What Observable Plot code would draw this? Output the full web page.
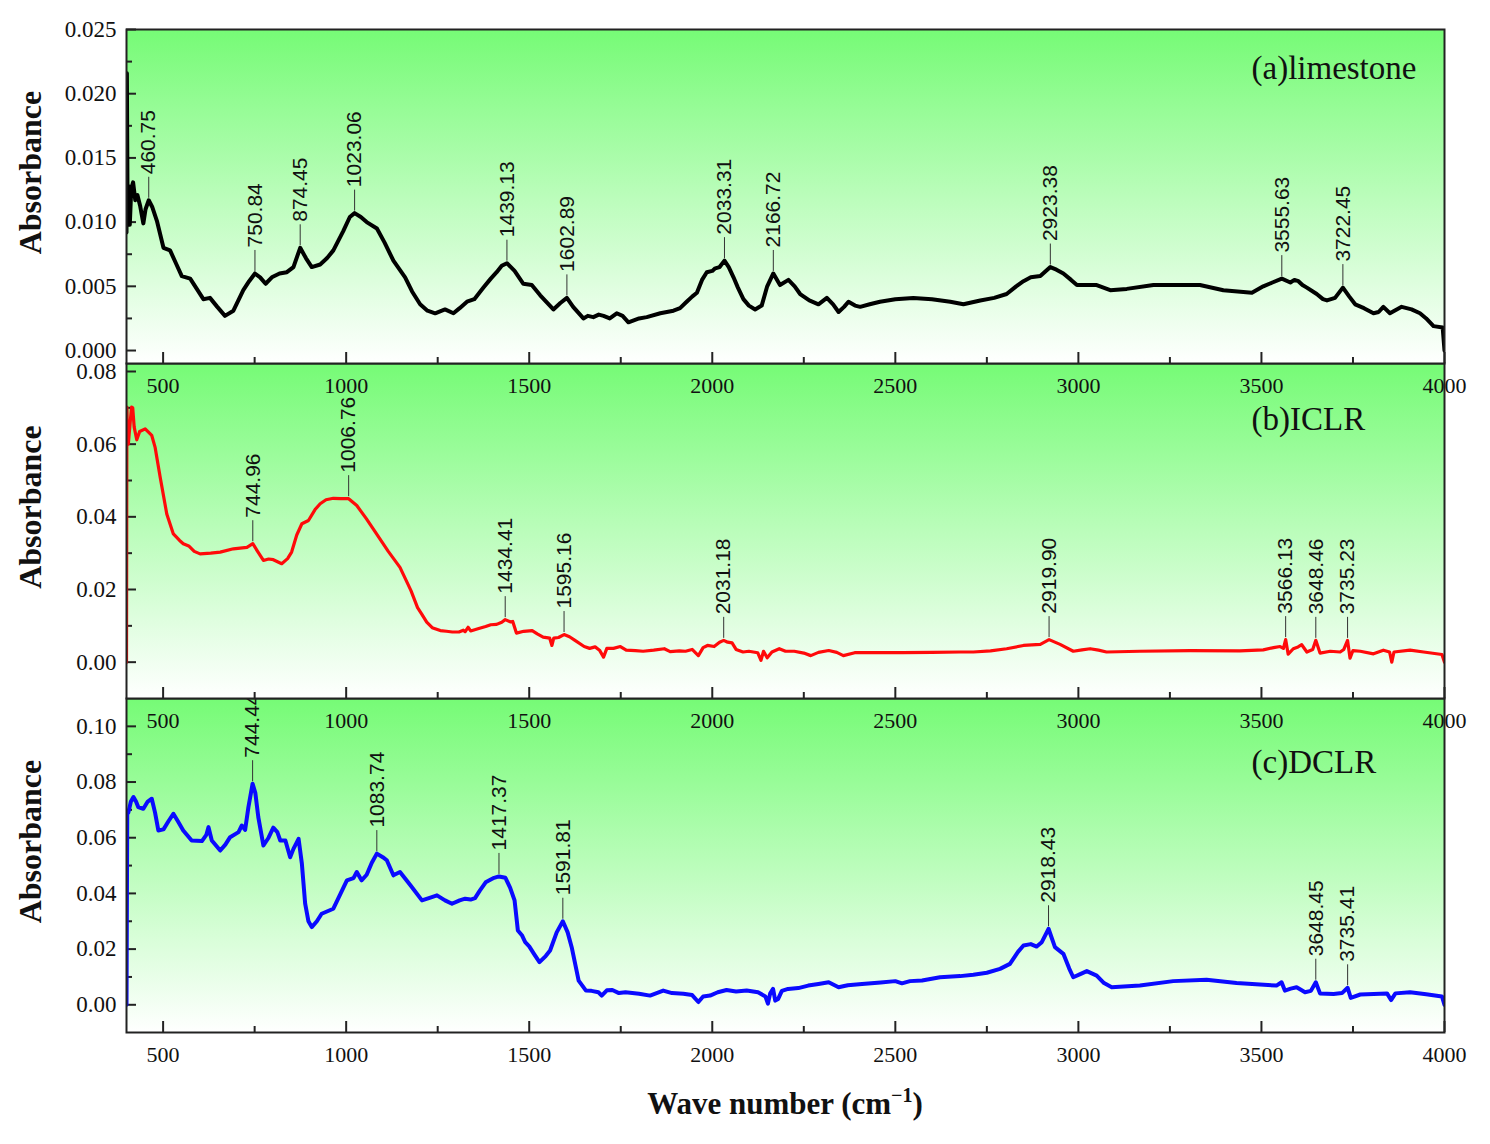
<!DOCTYPE html>
<html>
<head>
<meta charset="utf-8">
<script src="https://cdn.jsdelivr.net/npm/d3@7"></script>
<script src="https://cdn.jsdelivr.net/npm/@observablehq/plot@0.6"></script>
<style>
  body { margin: 0; background: #fff; }
  #chart { position: relative; width: 1490px; height: 1144px; }
  #chart svg { position: absolute; left: 0; }
  #xtitle {
    position: absolute; top: 1086px; left: 126px; width: 1318px;
    text-align: center; line-height: 34px; color: #111;
    font: bold 31px "Liberation Serif", "Times New Roman", serif;
  }
  #xtitle sup { font-size: 20px; vertical-align: 12px; line-height: 0; }
</style>
</head>
<body>
<div id="chart"><div id="xtitle">Wave number (cm<sup>−1</sup>)</div></div>
<script>
// FTIR absorbance spectra: [wavenumber (cm-1), absorbance]
const limestone = [
  [400, 0.0092], [401, 0.0216], [403, 0.0105], [406, 0.0128], [409, 0.0098], [413, 0.0126],
  [418, 0.0131], [424, 0.0117], [430, 0.0121], [437, 0.0113], [446, 0.0099], [452, 0.0110],
  [460.75, 0.0117], [470, 0.0112], [483, 0.0101], [501, 0.0080], [519, 0.0078], [535, 0.0068],
  [551, 0.0058], [574, 0.0056], [592, 0.0048], [610, 0.0040], [628, 0.0041], [648, 0.0034],
  [669, 0.0027], [692, 0.0031], [719, 0.0047], [735, 0.0054], [750.84, 0.0060], [765, 0.0057],
  [780, 0.0052], [797, 0.0057], [818, 0.0060], [838, 0.0061], [856, 0.0065], [874.45, 0.0080],
  [890, 0.0072], [906, 0.0065], [929, 0.0067], [948, 0.0072], [965, 0.0078], [992, 0.0093],
  [1010, 0.0104], [1023.06, 0.0107], [1040, 0.0104], [1056, 0.0100], [1084, 0.0095], [1105, 0.0084],
  [1129, 0.0070], [1161, 0.0057], [1180, 0.0046], [1202, 0.0036], [1222, 0.0031], [1243, 0.0029],
  [1270, 0.0032], [1293, 0.0029], [1310, 0.0033], [1330, 0.0038], [1350, 0.0040], [1375, 0.0049],
  [1395, 0.0056], [1411, 0.0061], [1425, 0.0066], [1439.13, 0.0068], [1460, 0.0062], [1484, 0.0052],
  [1507, 0.0051], [1530, 0.0043], [1566, 0.0032], [1585, 0.0037], [1602.89, 0.0041], [1620, 0.0034],
  [1648, 0.0025], [1660, 0.0027], [1675, 0.0026], [1690, 0.0028], [1703, 0.0027], [1720, 0.0025],
  [1739, 0.0029], [1755, 0.0027], [1771, 0.0022], [1800, 0.0025], [1821, 0.0026], [1858, 0.0029],
  [1894, 0.0031], [1912, 0.0033], [1930, 0.0038], [1945, 0.0042], [1958, 0.0045], [1972, 0.0055],
  [1985, 0.0061], [2000, 0.0062], [2008, 0.0064], [2020, 0.0065], [2033.31, 0.0070], [2045, 0.0065],
  [2058, 0.0057], [2070, 0.0049], [2085, 0.0040], [2100, 0.0035], [2117, 0.0032], [2135, 0.0035],
  [2150, 0.0050], [2166.72, 0.0060], [2185, 0.0051], [2208, 0.0055], [2225, 0.0050], [2240, 0.0044],
  [2265, 0.0039], [2290, 0.0036], [2313, 0.0041], [2330, 0.0036], [2345, 0.0030], [2360, 0.0034],
  [2372, 0.0038], [2390, 0.0035], [2404, 0.0034], [2430, 0.0036], [2458, 0.0038], [2500, 0.0040],
  [2549, 0.0041], [2600, 0.0040], [2650, 0.0038], [2686, 0.0036], [2732, 0.0039], [2770, 0.0041],
  [2804, 0.0044], [2830, 0.0050], [2850, 0.0054], [2870, 0.0057], [2896, 0.0058], [2923.38, 0.0065],
  [2940, 0.0063], [2959, 0.0060], [2980, 0.0055], [2996, 0.0051], [3050, 0.0051], [3087, 0.0047],
  [3132, 0.0048], [3205, 0.0051], [3270, 0.0051], [3332, 0.0051], [3396, 0.0047], [3474, 0.0045],
  [3505, 0.0050], [3530, 0.0053], [3555.63, 0.0056], [3579, 0.0053], [3590, 0.0055], [3601, 0.0054],
  [3612, 0.0051], [3624, 0.0049], [3651, 0.0044], [3668, 0.0040], [3679, 0.0039], [3701, 0.0041],
  [3722.45, 0.0049], [3740, 0.0042], [3756, 0.0036], [3780, 0.0033], [3806, 0.0029], [3820, 0.0030],
  [3833, 0.0034], [3851, 0.0029], [3883, 0.0034], [3910, 0.0032], [3933, 0.0029], [3950, 0.0025],
  [3970, 0.0019], [3995, 0.0018], [4000, 0.0000]
];

const iclr = [
  [400, 0.0000], [401, 0.0702], [403, 0.0610], [405, 0.0600], [410, 0.0660], [414, 0.0702],
  [417, 0.0700], [421, 0.0647], [428, 0.0612], [436, 0.0635], [451, 0.0642], [469, 0.0624],
  [478, 0.0592], [492, 0.0509], [510, 0.0408], [528, 0.0353], [545, 0.0335], [555, 0.0326],
  [570, 0.0320], [585, 0.0305], [601, 0.0298], [630, 0.0300], [656, 0.0303], [692, 0.0312],
  [729, 0.0316], [744.96, 0.0326], [758, 0.0305], [774, 0.0280], [788, 0.0284], [801, 0.0282],
  [824, 0.0271], [840, 0.0285], [851, 0.0303], [865, 0.0350], [879, 0.0381], [897, 0.0390],
  [915, 0.0420], [929, 0.0436], [945, 0.0447], [965, 0.0451], [985, 0.0450], [1006.76, 0.0450],
  [1029, 0.0431], [1055, 0.0395], [1083, 0.0353], [1115, 0.0305], [1147, 0.0261], [1177, 0.0197],
  [1195, 0.0150], [1206, 0.0133], [1220, 0.0110], [1235, 0.0095], [1257, 0.0087], [1274, 0.0085],
  [1290, 0.0083], [1308, 0.0083], [1320, 0.0088], [1325, 0.0084], [1333, 0.0096], [1340, 0.0086],
  [1360, 0.0092], [1381, 0.0098], [1395, 0.0103], [1411, 0.0104], [1425, 0.0110], [1434.41, 0.0117],
  [1448, 0.0111], [1455, 0.0112], [1465, 0.0080], [1485, 0.0085], [1508, 0.0087], [1522, 0.0078],
  [1538, 0.0069], [1556, 0.0066], [1562, 0.0046], [1567, 0.0066], [1580, 0.0068], [1595.16, 0.0076],
  [1610, 0.0070], [1625, 0.0060], [1650, 0.0043], [1665, 0.0038], [1680, 0.0042], [1692, 0.0033],
  [1703, 0.0014], [1712, 0.0038], [1730, 0.0038], [1749, 0.0043], [1765, 0.0033], [1790, 0.0032],
  [1811, 0.0030], [1840, 0.0033], [1869, 0.0037], [1885, 0.0029], [1910, 0.0031], [1927, 0.0030],
  [1945, 0.0035], [1962, 0.0018], [1975, 0.0040], [1987, 0.0046], [2005, 0.0043], [2020, 0.0055],
  [2031.18, 0.0060], [2042, 0.0055], [2054, 0.0053], [2065, 0.0035], [2084, 0.0028], [2100, 0.0030],
  [2124, 0.0026], [2133, 0.0005], [2140, 0.0030], [2150, 0.0012], [2163, 0.0028], [2183, 0.0037],
  [2200, 0.0030], [2224, 0.0030], [2250, 0.0025], [2269, 0.0018], [2290, 0.0027], [2318, 0.0032],
  [2340, 0.0027], [2358, 0.0018], [2389, 0.0026], [2450, 0.0026], [2520, 0.0026], [2600, 0.0027],
  [2677, 0.0028], [2713, 0.0028], [2760, 0.0031], [2804, 0.0037], [2850, 0.0046], [2896, 0.0049],
  [2919.90, 0.0062], [2950, 0.0049], [2986, 0.0030], [3010, 0.0034], [3032, 0.0037], [3055, 0.0033],
  [3077, 0.0028], [3168, 0.0030], [3305, 0.0032], [3441, 0.0031], [3505, 0.0034], [3533, 0.0040],
  [3551, 0.0043], [3560, 0.0038], [3566.13, 0.0062], [3573, 0.0022], [3587, 0.0037], [3600, 0.0042],
  [3610, 0.0048], [3624, 0.0028], [3640, 0.0035], [3648.46, 0.0060], [3660, 0.0025], [3688, 0.0030],
  [3715, 0.0028], [3725, 0.0035], [3735.23, 0.0060], [3742, 0.0011], [3750, 0.0032], [3770, 0.0030],
  [3806, 0.0023], [3833, 0.0033], [3850, 0.0028], [3856, 0.0000], [3862, 0.0028], [3906, 0.0033],
  [3943, 0.0028], [3993, 0.0021], [4000, 0.0000]
];

const dclr = [
  [400, 0.0000], [402, 0.0686], [405, 0.0690], [412, 0.0730], [419, 0.0746], [426, 0.0730],
  [432, 0.0710], [446, 0.0704], [458, 0.0730], [469, 0.0740], [478, 0.0690], [487, 0.0626],
  [501, 0.0630], [515, 0.0660], [528, 0.0686], [540, 0.0660], [555, 0.0626], [578, 0.0590],
  [606, 0.0588], [618, 0.0610], [624, 0.0638], [633, 0.0590], [656, 0.0554], [670, 0.0575],
  [683, 0.0602], [706, 0.0620], [715, 0.0644], [724, 0.0628], [733, 0.0710], [744.44, 0.0794],
  [752, 0.0760], [760, 0.0674], [774, 0.0572], [788, 0.0600], [801, 0.0636], [812, 0.0620],
  [820, 0.0590], [834, 0.0590], [847, 0.0530], [856, 0.0560], [870, 0.0596], [879, 0.0507],
  [888, 0.0363], [897, 0.0300], [906, 0.0279], [920, 0.0300], [933, 0.0327], [965, 0.0345],
  [985, 0.0400], [1002, 0.0447], [1020, 0.0455], [1029, 0.0477], [1042, 0.0447], [1056, 0.0467],
  [1070, 0.0510], [1083.74, 0.0543], [1100, 0.0530], [1111, 0.0519], [1129, 0.0465], [1147, 0.0477],
  [1175, 0.0430], [1207, 0.0375], [1230, 0.0385], [1248, 0.0393], [1270, 0.0375], [1289, 0.0363],
  [1310, 0.0375], [1325, 0.0381], [1340, 0.0378], [1352, 0.0383], [1365, 0.0410], [1381, 0.0440],
  [1395, 0.0450], [1404, 0.0456], [1417.37, 0.0461], [1435, 0.0456], [1448, 0.0420], [1460, 0.0375],
  [1469, 0.0267], [1480, 0.0250], [1489, 0.0225], [1500, 0.0210], [1513, 0.0183], [1528, 0.0153],
  [1545, 0.0175], [1557, 0.0195], [1575, 0.0260], [1591.81, 0.0300], [1605, 0.0260], [1616, 0.0207],
  [1635, 0.0087], [1655, 0.0051], [1670, 0.0050], [1689, 0.0045], [1698, 0.0033], [1712, 0.0052],
  [1727, 0.0053], [1745, 0.0042], [1763, 0.0045], [1800, 0.0040], [1830, 0.0033], [1866, 0.0051],
  [1890, 0.0042], [1921, 0.0040], [1945, 0.0035], [1962, 0.0010], [1975, 0.0030], [1994, 0.0033],
  [2015, 0.0045], [2039, 0.0053], [2065, 0.0048], [2094, 0.0051], [2125, 0.0045], [2145, 0.0030],
  [2152, 0.0004], [2158, 0.0040], [2166, 0.0057], [2172, 0.0015], [2180, 0.0021], [2190, 0.0050],
  [2207, 0.0057], [2235, 0.0060], [2262, 0.0069], [2290, 0.0075], [2318, 0.0081], [2345, 0.0063],
  [2370, 0.0070], [2409, 0.0075], [2460, 0.0080], [2500, 0.0085], [2518, 0.0077], [2540, 0.0085],
  [2573, 0.0087], [2622, 0.0099], [2677, 0.0103], [2713, 0.0108], [2750, 0.0115], [2786, 0.0129],
  [2813, 0.0147], [2835, 0.0190], [2850, 0.0213], [2870, 0.0218], [2886, 0.0209], [2900, 0.0225],
  [2918.43, 0.0273], [2936, 0.0207], [2959, 0.0183], [2975, 0.0130], [2986, 0.0099], [3005, 0.0110],
  [3023, 0.0121], [3050, 0.0105], [3070, 0.0078], [3091, 0.0063], [3168, 0.0069], [3259, 0.0085],
  [3350, 0.0090], [3432, 0.0078], [3496, 0.0073], [3541, 0.0069], [3555, 0.0081], [3564, 0.0051],
  [3580, 0.0058], [3596, 0.0063], [3610, 0.0052], [3619, 0.0045], [3635, 0.0050], [3648.45, 0.0081],
  [3660, 0.0041], [3697, 0.0039], [3720, 0.0042], [3735.41, 0.0061], [3744, 0.0025], [3770, 0.0037],
  [3843, 0.0041], [3854, 0.0017], [3866, 0.0041], [3906, 0.0045], [3950, 0.0038], [3993, 0.0030],
  [4000, 0.0000]
];

// Labelled band positions (cm-1)
const limestonePeaks = [460.75, 750.84, 874.45, 1023.06, 1439.13, 1602.89, 2033.31, 2166.72, 2923.38, 3555.63, 3722.45];
const iclrPeaks = [744.96, 1006.76, 1434.41, 1595.16, 2031.18, 2919.90, 3566.13, 3648.46, 3735.23];
const dclrPeaks = [744.44, 1083.74, 1417.37, 1591.81, 2918.43, 3648.45, 3735.41];

// Axis ticks
const xMajor = [500, 1000, 1500, 2000, 2500, 3000, 3500, 4000];
const xMinor = [750, 1250, 1750, 2250, 2750, 3250, 3750];
const yMajorA = [0, 0.005, 0.010, 0.015, 0.020, 0.025];
const yMinorA = [0.0025, 0.0075, 0.0125, 0.0175, 0.0225];
const yMajorB = [0, 0.02, 0.04, 0.06, 0.08];
const yMinorB = [0.01, 0.03, 0.05, 0.07];
const yMajorC = [0, 0.02, 0.04, 0.06, 0.08, 0.10];
const yMinorC = [0.01, 0.03, 0.05, 0.07, 0.09];

const SERIF = '"Liberation Serif", "Times New Roman", serif';
const SANS = '"Liberation Sans", Arial, sans-serif';
const INK = "#111";

// vertical green-to-white background gradient
function gradientDefs(id) {
  return () => {
    const defs = d3.create("svg:defs");
    const g = defs.append("linearGradient").attr("id", id)
      .attr("x1", 0).attr("y1", 0).attr("x2", 0).attr("y2", 1);
    g.append("stop").attr("offset", "0%").attr("stop-color", "#76fb76");
    g.append("stop").attr("offset", "100%").attr("stop-color", "#ffffff");
    return defs.node();
  };
}

function panel({id, series, peaks, color, lineWidth, domain, yMajor, yMinor, fmt, name, nameDy, plotH, marginTop, top, z}) {
  const rows = series.map(([x, y]) => ({x, y}));
  const valueAt = new Map(series);
  const peakRows = peaks.map((p) => ({x: p, y: valueAt.get(p), label: p.toFixed(2)}));
  const marginBottom = 40;
  const svg = Plot.plot({
    width: 1490,
    height: marginTop + plotH + marginBottom,
    marginLeft: 126, marginRight: 46, marginTop, marginBottom,
    style: {background: "transparent", overflow: "visible", fontFamily: SERIF, color: INK},
    x: {domain: [400, 4000], label: null},
    y: {domain, label: null},
    marks: [
      gradientDefs(id),
      Plot.frame({fill: `url(#${id})`, stroke: "none"}),
      Plot.axisX({ticks: xMajor, tickSize: 0, tickPadding: 14, fontSize: 22, label: null, tickFormat: d3.format("d")}),
      Plot.axisY({ticks: yMajor, tickSize: 0, tickPadding: 10, fontSize: 23, label: null, tickFormat: d3.format(fmt)}),
      Plot.ruleX(xMajor, {insetTop: plotH - 11, stroke: "#222", strokeWidth: 2}),
      Plot.ruleX(xMinor, {insetTop: plotH - 6, stroke: "#222", strokeWidth: 2}),
      Plot.ruleY(yMajor, {insetRight: 1318 - 10, stroke: "#222", strokeWidth: 2}),
      Plot.ruleY(yMinor, {insetRight: 1318 - 6, stroke: "#222", strokeWidth: 2}),
      Plot.line(rows, {x: "x", y: "y", stroke: color, strokeWidth: lineWidth, strokeLinejoin: "round", clip: true}),
      // leader lines above each labelled band
      Plot.ruleX(peakRows, {x: "x", y1: "y", y2: "y", insetTop: -23, insetBottom: 2, stroke: "#333", strokeWidth: 1}),
      Plot.text(peakRows, {x: "x", y: "y", text: "label", rotate: -90, textAnchor: "start", dy: -26,
        fontFamily: SANS, fontSize: 21, fill: INK}),
      Plot.text([name], {frameAnchor: "top-right", textAnchor: "start", lineAnchor: "top", dx: -193, dy: nameDy,
        fontFamily: SERIF, fontSize: 33, fill: INK}),
      Plot.text(["Absorbance"], {frameAnchor: "left", textAnchor: "middle", rotate: -90, dx: -96, dy: -24,
        fontFamily: SERIF, fontSize: 32, fontWeight: "bold", fill: INK}),
      Plot.frame({stroke: "#222", strokeWidth: 2})
    ]
  });
  svg.style.top = `${top}px`;
  svg.style.zIndex = z;
  return svg;
}

const chart = document.getElementById("chart");
chart.append(panel({
  id: "bgC", series: dclr, peaks: dclrPeaks, color: "#0a0aff", lineWidth: 4,
  domain: [-0.00995, 0.110], yMajor: yMajorC, yMinor: yMinorC, fmt: ".2f",
  name: "(c)DCLR", nameDy: 51, plotH: 334, marginTop: 10, top: 688, z: 1
}));
chart.append(panel({
  id: "bgB", series: iclr, peaks: iclrPeaks, color: "#ff0a0a", lineWidth: 3.2,
  domain: [-0.0100, 0.0822], yMajor: yMajorB, yMinor: yMinorB, fmt: ".2f",
  name: "(b)ICLR", nameDy: 43, plotH: 335, marginTop: 10, top: 353, z: 2
}));
chart.append(panel({
  id: "bgA", series: limestone, peaks: limestonePeaks, color: "#000000", lineWidth: 4,
  domain: [-0.00101, 0.025], yMajor: yMajorA, yMinor: yMinorA, fmt: ".3f",
  name: "(a)limestone", nameDy: 26, plotH: 334, marginTop: 29, top: 0, z: 3
}));
</script>
</body>
</html>
